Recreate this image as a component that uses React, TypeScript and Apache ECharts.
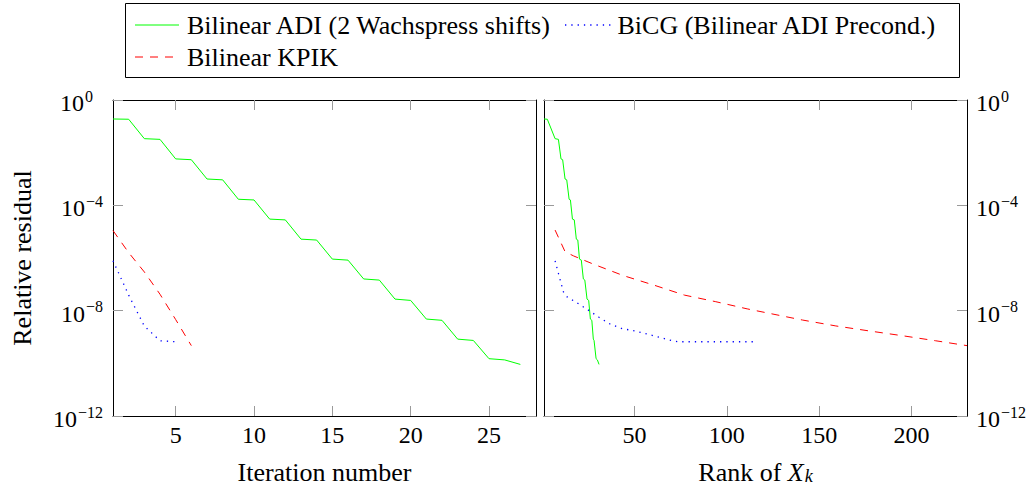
import React, { useEffect, useRef } from "react";
import * as echarts from "echarts";

// ---- Data ----
const adiIterations = [1, 2, 3, 4, 5, 6, 7, 8, 9, 10, 11, 12, 13, 14, 15, 16, 17, 18, 19, 20, 21, 22, 23, 24, 25, 26, 27];
const adiRanks = [1.0, 2.8, 7.0, 8.8, 10.2, 11.1, 12.4, 13.3, 14.6, 15.3, 16.4, 17.4, 18.5, 19.3, 20.2, 21.2, 22.3, 23.1, 24.3, 25.2, 26.1, 26.9, 27.7, 28.1, 29.2, 29.9, 30.8];
const adiResidual = [1.9e-1, 1.86e-1, 3.4e-2, 3.2e-2, 5.8e-3, 5.4e-3, 1.0e-3, 9.3e-4, 1.7e-4, 1.6e-4, 3.0e-5, 2.8e-5, 5.2e-6, 4.8e-6, 9.1e-7, 8.3e-7, 1.6e-7, 1.45e-7, 2.75e-8, 2.45e-8, 4.8e-9, 4.3e-9, 8.3e-10, 7.4e-10, 1.5e-10, 1.35e-10, 9.1e-11];

const kpikIterations = [1, 2, 3, 4, 5, 6];
const kpikResidualByIteration = [1.1e-5, 1.6e-6, 2.95e-7, 4.2e-8, 4.6e-9, 4.7e-10];
const kpikRanks = [7, 12.4, 17, 28, 44, 61, 77, 94, 111, 123, 141, 159, 177, 195, 213, 230];
const kpikResidualByRank = [1.15e-5, 1.74e-6, 1.2e-6, 5.75e-7, 2.14e-7, 9.1e-8, 3.9e-8, 2.19e-8, 1.17e-8, 7.9e-9, 4.4e-9, 2.63e-9, 1.7e-9, 1.12e-9, 7.2e-10, 4.7e-10];

const bicgIterations = [1, 2, 3, 4, 5];
const bicgResidualByIteration = [7.9e-7, 3.9e-8, 2.6e-9, 7.2e-10, 6.6e-10];
const bicgRanks = [7, 8.8, 11.5, 13.3, 19.3, 25, 30.8, 36.8, 43.1, 50, 56.7, 63.4, 70.3, 73.5, 116];
const bicgResidualByRank = [7.8e-7, 2.6e-7, 5.2e-8, 3.4e-8, 1.9e-8, 1.05e-8, 5.6e-9, 3.1e-9, 2.1e-9, 1.7e-9, 1.3e-9, 9.8e-10, 7.2e-10, 6.6e-10, 6.6e-10];

const iterationTicks = [5, 10, 15, 20, 25];
const rankTicks = [50, 100, 150, 200];

const seriesNames = [
  "Bilinear ADI (2 Wachspress shifts)",
  "BiCG (Bilinear ADI Precond.)",
  "Bilinear KPIK",
];

const GREEN = "#00ff00";
const BLUE = "#0000ff";
const RED = "#ff0000";
const FONT = "Liberation Serif";
const FS = 26; // legend and axis names
const TFS = 24; // tick labels
const SUP = 16;
const TICK_COLOR = "#9a9a9a";

const zip = (xs: number[], ys: number[]) => xs.map((x, i) => [x, ys[i]]);

const expLabel = (left: boolean) => (v: number) => {
  const e = Math.round(Math.log10(v));
  if (e === 0) return left ? "{b|10}{z|0}" : "{b|10}{s|0}";
  return `{b|10}{s|\u2212${-e}}`;
};

const richExp = {
  b: { fontSize: TFS, fontFamily: FONT, color: "#000", lineHeight: 24, padding: [6, 0, 0, 0] },
  s: { fontSize: SUP, fontFamily: FONT, color: "#000", lineHeight: 16, padding: [0, 0, 8, 1] },
  z: { fontSize: SUP, fontFamily: FONT, color: "#000", lineHeight: 16, padding: [0, 10, 8, 1] },
};

const tick = (customValues?: number[]) => ({
  show: true,
  inside: true,
  length: 10,
  lineStyle: { color: TICK_COLOR, width: 1 },
  ...(customValues ? { customValues } : {}),
});

const axisLine = { show: true, onZero: false, lineStyle: { color: "#000", width: 1 } };

export default function App() {
  const ref = useRef<HTMLDivElement>(null);

  useEffect(() => {
    document.body.style.margin = "0";
    if (!ref.current) return;
    const chart = echarts.init(ref.current, undefined, { renderer: "svg" });

    const grids = [
      { left: 113, top: 100, width: 423, height: 316, outerBoundsMode: "none", containLabel: false },
      { left: 544, top: 100, width: 423, height: 316, outerBoundsMode: "none", containLabel: false },
    ];

    const logAxisBase = {
      type: "log",
      logBase: 10000,
      min: 1e-12,
      max: 1,
      splitLine: { show: false },
      axisLine,
    };

    const option: any = {
      animation: false,
      backgroundColor: "#fff",
      textStyle: { fontFamily: FONT },
      grid: grids,
      xAxis: [
        {
          type: "value",
          gridIndex: 0,
          position: "bottom",
          min: 1,
          max: 28,
          axisLine,
          splitLine: { show: false },
          axisTick: tick(iterationTicks),
          axisLabel: { customValues: iterationTicks, margin: 7, fontFamily: FONT, fontSize: TFS, color: "#000" },
          name: "Iteration number",
          nameLocation: "middle",
          nameGap: 43,
          nameTextStyle: { fontFamily: FONT, fontSize: FS, lineHeight: 26, color: "#000" },
        },
        {
          type: "value",
          gridIndex: 0,
          position: "top",
          min: 1,
          max: 28,
          axisLine,
          splitLine: { show: false },
          axisTick: tick(iterationTicks),
          axisLabel: { show: false },
        },
        {
          type: "value",
          gridIndex: 1,
          position: "bottom",
          min: 1,
          max: 230,
          axisLine,
          splitLine: { show: false },
          axisTick: tick(rankTicks),
          axisLabel: { customValues: rankTicks, margin: 7, fontFamily: FONT, fontSize: TFS, color: "#000" },
          name: "Rank of {i|X}{k|k}",
          nameLocation: "middle",
          nameGap: 43,
          nameTextStyle: {
            fontFamily: FONT,
            fontSize: FS,
            lineHeight: 26,
            color: "#000",
            rich: {
              i: { fontFamily: FONT, fontSize: FS, fontStyle: "italic", color: "#000", lineHeight: 26 },
              k: { fontFamily: FONT, fontSize: SUP + 2, fontStyle: "italic", color: "#000", lineHeight: 18, padding: [7, 0, 0, 1] },
            },
          },
        },
        {
          type: "value",
          gridIndex: 1,
          position: "top",
          min: 1,
          max: 230,
          axisLine,
          splitLine: { show: false },
          axisTick: tick(rankTicks),
          axisLabel: { show: false },
        },
      ],
      yAxis: [
        {
          ...logAxisBase,
          gridIndex: 0,
          position: "left",
          axisTick: tick(),
          axisLabel: { formatter: expLabel(true), margin: 10, rich: richExp, fontFamily: FONT, fontSize: TFS, color: "#000" },
          name: "Relative residual",
          nameLocation: "middle",
          nameGap: 78,
          nameTextStyle: { fontFamily: FONT, fontSize: FS, color: "#000" },
        },
        {
          ...logAxisBase,
          gridIndex: 0,
          position: "right",
          axisTick: tick(),
          axisLabel: { show: false },
        },
        {
          ...logAxisBase,
          gridIndex: 1,
          position: "right",
          axisTick: tick(),
          axisLabel: { formatter: expLabel(false), margin: 9, rich: richExp, fontFamily: FONT, fontSize: TFS, color: "#000" },
        },
        {
          ...logAxisBase,
          gridIndex: 1,
          position: "left",
          axisTick: tick(),
          axisLabel: { show: false },
        },
      ],
      series: [
        {
          name: seriesNames[0],
          type: "line",
          xAxisIndex: 0,
          yAxisIndex: 0,
          data: zip(adiIterations, adiResidual),
          showSymbol: false,
          symbol: "none",
          lineStyle: { color: GREEN, width: 1 },
        },
        {
          name: seriesNames[1],
          type: "line",
          xAxisIndex: 0,
          yAxisIndex: 0,
          data: zip(bicgIterations, bicgResidualByIteration),
          showSymbol: false,
          symbol: "none",
          lineStyle: { color: BLUE, width: 1.3, type: [1.3, 5] },
        },
        {
          name: seriesNames[2],
          type: "line",
          xAxisIndex: 0,
          yAxisIndex: 0,
          data: zip(kpikIterations, kpikResidualByIteration),
          showSymbol: false,
          symbol: "none",
          lineStyle: { color: RED, width: 1, type: [8, 7] },
        },
        {
          name: seriesNames[0],
          type: "line",
          xAxisIndex: 2,
          yAxisIndex: 2,
          data: zip(adiRanks, adiResidual),
          showSymbol: false,
          symbol: "none",
          lineStyle: { color: GREEN, width: 1 },
        },
        {
          name: seriesNames[1],
          type: "line",
          xAxisIndex: 2,
          yAxisIndex: 2,
          data: zip(bicgRanks, bicgResidualByRank),
          showSymbol: false,
          symbol: "none",
          lineStyle: { color: BLUE, width: 1.3, type: [1.3, 5] },
        },
        {
          name: seriesNames[2],
          type: "line",
          xAxisIndex: 2,
          yAxisIndex: 2,
          data: zip(kpikRanks, kpikResidualByRank),
          showSymbol: false,
          symbol: "none",
          lineStyle: { color: RED, width: 1, type: [8, 7] },
        },
      ],
      graphic: [
        {
          type: "rect",
          shape: { x: 125.5, y: 3.5, width: 834, height: 74 },
          style: { fill: "#fff", stroke: "#000", lineWidth: 1 },
          z: 10,
        },
        {
          type: "line",
          shape: { x1: 135, y1: 25, x2: 179, y2: 25 },
          style: { stroke: GREEN, lineWidth: 1 },
          z: 11,
        },
        {
          type: "text",
          x: 187,
          y: 25,
          style: { text: seriesNames[0], fontFamily: FONT, fontSize: FS, fill: "#000", verticalAlign: "middle", align: "left" },
          z: 11,
        },
        {
          type: "line",
          shape: { x1: 565, y1: 25, x2: 613, y2: 25 },
          style: { stroke: BLUE, lineWidth: 1.3, lineDash: [1.3, 5] },
          z: 11,
        },
        {
          type: "text",
          x: 617.5,
          y: 25,
          style: { text: seriesNames[1], fontFamily: FONT, fontSize: FS, fill: "#000", verticalAlign: "middle", align: "left" },
          z: 11,
        },
        {
          type: "line",
          shape: { x1: 135, y1: 57, x2: 174, y2: 57 },
          style: { stroke: RED, lineWidth: 1, lineDash: [8, 7] },
          z: 11,
        },
        {
          type: "text",
          x: 187,
          y: 57,
          style: { text: seriesNames[2], fontFamily: FONT, fontSize: FS, fill: "#000", verticalAlign: "middle", align: "left" },
          z: 11,
        },
      ],
    };

    chart.setOption(option);
    return () => chart.dispose();
  }, []);

  return (
    <div
      ref={ref}
      style={{ position: "absolute", left: 0, top: 0, width: 1036, height: 486, background: "#fff" }}
    />
  );
}
